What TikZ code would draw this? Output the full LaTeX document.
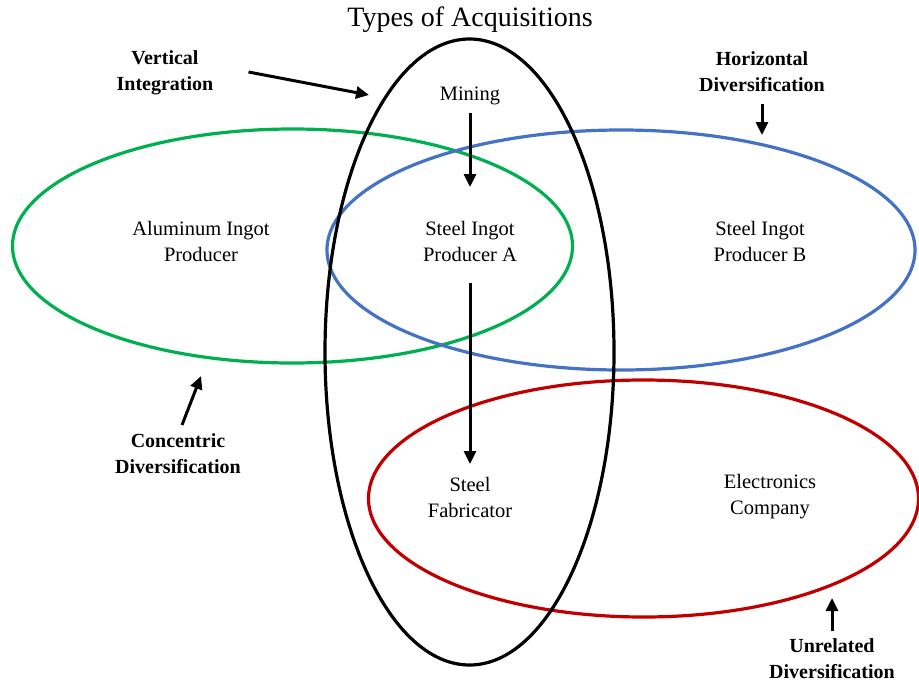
\documentclass[tikz,border=0pt]{standalone}
\usepackage{fontspec}
\setmainfont{Liberation Serif}
\usetikzlibrary{shapes.geometric,arrows.meta}
\definecolor{vgreen}{HTML}{00B050}
\definecolor{vblue}{HTML}{4472C4}
\definecolor{vred}{HTML}{C00000}
\tikzset{
  ell/.style={ellipse, draw, line width=3.2pt, inner sep=0pt},
  body/.style={align=center, inner sep=0pt, font=\fontsize{20.5}{26}\selectfont},
  lbl/.style={align=center, inner sep=0pt, font=\fontsize{20}{26}\selectfont\bfseries},
  arr/.style={line width=3pt, -{Triangle[length=13pt,width=12pt]}}
}
\begin{document}
\begin{tikzpicture}[x=1pt,y=-1pt]
\useasboundingbox (0,0) rectangle (919,683);
% ellipses
\node[ell, draw=vgreen, minimum width=560pt, minimum height=234pt] (green) at (292.5,246) {};
\node[ell, draw=vblue, minimum width=588pt, minimum height=240pt] (blue) at (621,250) {};
\node[ell, draw=vred, minimum width=550pt, minimum height=237pt] (red) at (643.5,498.5) {};
\node[ell, draw=black, minimum width=289pt, minimum height=626pt] (black) at (469.5,352) {};
% title
\node[inner sep=0pt, font=\fontsize{28}{32}\selectfont] (title) at (470,20) {Types of Acquisitions};
% texts
\node[body] (mining) at (470,96) {Mining};
\node[body] (alu) at (201,241) {Aluminum Ingot\\Producer};
\node[body] (steelA) at (470,241) {Steel Ingot\\Producer A};
\node[body] (steelB) at (760,241) {Steel Ingot\\Producer B};
\node[body] (fab) at (470,497) {Steel\\Fabricator};
\node[body] (elec) at (770,497) {Electronics\\Company};
% labels
\node[lbl] (vi) at (165,73) {Vertical\\Integration};
\node[lbl] (hd) at (762,72) {Horizontal\\Diversification};
\node[lbl] (cd) at (178,454) {Concentric\\Diversification};
\node[lbl] (ud) at (832,659) {Unrelated\\Diversification};
% target coordinates
\coordinate (viT) at (369,95);
\coordinate (hdT) at (762,135);
\coordinate (cdT) at (201,376);
\coordinate (udT) at (832,598);
% arrows
\draw[arr] (mining.south |- 0,113) -- (steelA.north |- 0,187);
\draw[arr] (steelA.south |- 0,283) -- (fab.north |- 0,464);
\draw[arr] (vi.east |- 0,72) ++(35,0) -- (viT);
\draw[arr] (hd.south |- 0,104) -- (hdT);
\draw[arr] (182,425) -- (cdT);
\draw[arr] (ud.north |- 0,631) -- (udT);
\end{tikzpicture}
\end{document}
